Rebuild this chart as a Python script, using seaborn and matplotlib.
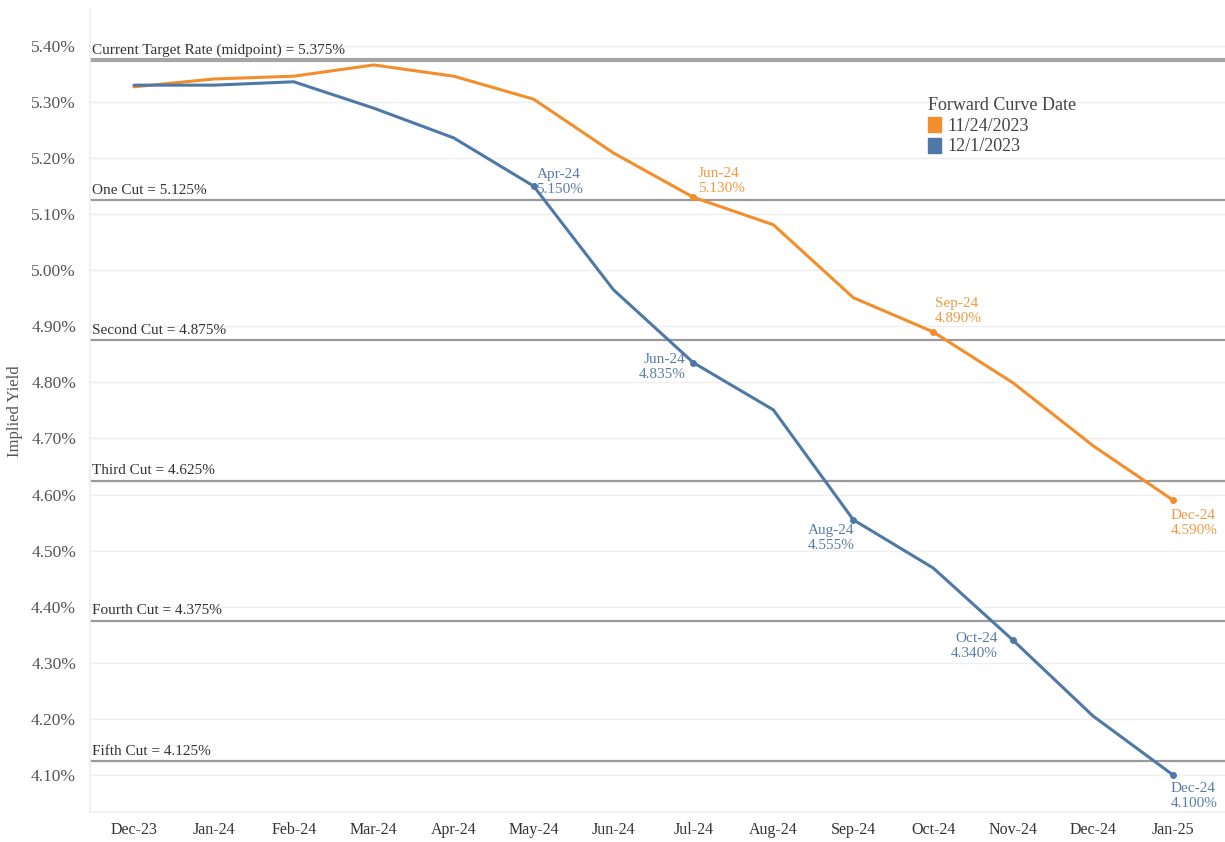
import numpy as np
import pandas as pd
import matplotlib
matplotlib.use("Agg")
import matplotlib.pyplot as plt
import seaborn as sns
from matplotlib.patches import Patch

months = ["Dec-23", "Jan-24", "Feb-24", "Mar-24", "Apr-24", "May-24", "Jun-24",
          "Jul-24", "Aug-24", "Sep-24", "Oct-24", "Nov-24", "Dec-24", "Jan-25"]
curve_1124 = [5.327, 5.341, 5.346, 5.366, 5.346, 5.305, 5.209,
              5.130, 5.081, 4.951, 4.890, 4.799, 4.687, 4.590]
curve_1201 = [5.330, 5.330, 5.336, 5.289, 5.236, 5.150, 4.965,
              4.835, 4.751, 4.555, 4.469, 4.340, 4.205, 4.100]
series_names = ["11/24/2023", "12/1/2023"]
colors = ["#F28E2B", "#4E79A7"]
label_colors = ["#EE9A45", "#5A7DA8"]

ref_values = [5.375, 5.125, 4.875, 4.625, 4.375, 4.125]
ref_labels = ["Current Target Rate (midpoint) = 5.375%", "One Cut = 5.125%",
              "Second Cut = 4.875%", "Third Cut = 4.625%",
              "Fourth Cut = 4.375%", "Fifth Cut = 4.125%"]

# annotated points: (index, text)
ann_1124 = [(7, "Jun-24\n5.130%"), (10, "Sep-24\n4.890%"), (13, "Dec-24\n4.590%")]
ann_1201 = [(5, "Apr-24\n5.150%"), (7, "Jun-24\n4.835%"), (9, "Aug-24\n4.555%"),
            (11, "Oct-24\n4.340%"), (13, "Dec-24\n4.100%")]

yticks = [4.1, 4.2, 4.3, 4.4, 4.5, 4.6, 4.7, 4.8, 4.9, 5.0, 5.1, 5.2, 5.3, 5.4]

df = pd.DataFrame({
    "idx": list(range(len(months))) * 2,
    "yield": curve_1124 + curve_1201,
    "Forward Curve Date": [series_names[0]] * len(months) + [series_names[1]] * len(months),
})

sns.set_theme(style="white")
plt.rcParams["font.family"] = ["Liberation Serif", "DejaVu Serif"]

fig = plt.figure(figsize=(12.25, 8.42), dpi=100)
ax = fig.add_axes([90 / 1225, 1 - 812 / 842, 1 - 90 / 1225, 802 / 842])

# gridlines
for yt in yticks:
    ax.axhline(yt, color="#efefef", lw=1, zorder=0)

# reference lines
for i, (v, lab) in enumerate(zip(ref_values, ref_labels)):
    ax.axhline(v, color="#a5a5a5" if i == 0 else "#9a9a9a", lw=3 if i == 0 else 1.6, zorder=1)
    ax.text(0.002, v + 0.006, lab, transform=ax.get_yaxis_transform(),
            ha="left", va="bottom", fontsize=11, color="#333333", zorder=2)

sns.lineplot(data=df, x="idx", y="yield", hue="Forward Curve Date",
             palette=dict(zip(series_names, colors)), linewidth=2.2,
             legend=False, ax=ax, zorder=3)

# markers & annotations
offsets_1124 = {7: (3, 2, "left", "bottom"), 10: (1, 5, "left", "bottom"),
                13: (-2, -6, "left", "top")}
offsets_1201 = {5: (2, 3, "left", "center"), 7: (-6, 7, "right", "top"),
                9: (1, -3, "right", "top"), 11: (-11, 6, "right", "top"),
                13: (-2, -5, "left", "top")}
for vals, anns, offs, c, lc in [(curve_1124, ann_1124, offsets_1124, colors[0], label_colors[0]),
                                (curve_1201, ann_1201, offsets_1201, colors[1], label_colors[1])]:
    for i, txt in anns:
        ax.plot(i, vals[i], "o", ms=4, color=c, zorder=4)
        dx, dy, ha, va = offs[i]
        ax.annotate(txt, (i, vals[i]), xytext=(dx, dy), textcoords="offset points",
                    ha=ha, va=va, fontsize=11, color=lc, linespacing=1.2, zorder=5)

ax.set_xlim(-0.55, 13.65)
ax.set_ylim(4.034, 5.464)
ax.set_xticks(range(len(months)))
ax.set_xticklabels(months)
ax.set_yticks(yticks)
ax.set_yticklabels([f"{v:.2f}%" for v in yticks])
ax.tick_params(axis="x", length=4, color="#e6e6e6", labelsize=11.5, labelcolor="#333333", pad=3)
ax.tick_params(axis="y", length=0, labelsize=12.5, labelcolor="#555555", pad=10)
ax.set_xlabel("")
ax.set_ylabel("Implied Yield", fontsize=12, color="#555555", labelpad=6)
for s in ["top", "right"]:
    ax.spines[s].set_visible(False)
ax.spines["left"].set_color("#eeeeee")
ax.spines["bottom"].set_color("#eeeeee")

handles = [Patch(facecolor=c, edgecolor=c) for c in colors]
leg = ax.legend(handles, series_names, title="Forward Curve Date", loc="upper left",
                bbox_to_anchor=(0.732, 0.9), frameon=False, fontsize=13,
                title_fontsize=13, handlelength=0.7, handleheight=0.9,
                handletextpad=0.4, labelspacing=0.15, borderaxespad=0)
leg._legend_box.align = "left"
leg.get_title().set_color("#444444")
for t in leg.get_texts():
    t.set_color("#444444")

fig.savefig("out.png", dpi=100)
